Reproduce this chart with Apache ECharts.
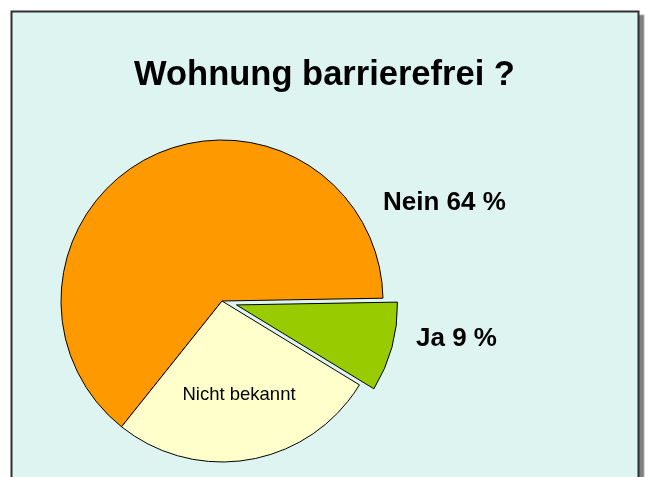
<!DOCTYPE html>
<html>
<head>
<meta charset="utf-8">
<script src="https://cdn.jsdelivr.net/npm/echarts@6/dist/echarts.min.js"></script>
<style>
html,body{margin:0;padding:0;background:#fff;}
#main{width:649px;height:477px;}
</style>
</head>
<body>
<div id="main"></div>
<script>
// Daten
const titleText = 'Wohnung barrierefrei ?';
const categories = ['Nein', 'Nicht bekannt', 'Ja'];
const values = [64, 27, 9];
const showPercent = [true, false, true];
const colors = ['#FF9900', '#FFFFCC', '#99CC00'];
const explodedName = 'Ja';

// Position der Beschriftungen (Pixel)
const labelPos = [
	{x: 383, y: 203, align: 'left', size: 26, weight: 'bold'},
	{x: 239, y: 395, align: 'center', size: 18.5, weight: 'normal'},
	{x: 416, y: 339, align: 'left', size: 26, weight: 'bold'}
];

const pieCenter = [222, 301];
const pieRadius = 161;
const startAngle = 1;
const explodeOffset = 15;

let myChart = echarts.init(document.getElementById('main'));

// Mittelwinkel des herausgezogenen Stücks (gegen den Uhrzeigersinn)
let total = values.reduce(function(a, b){ return a + b; }, 0);
let before = 0;
let exIdx = categories.indexOf(explodedName);
for (let i = 0; i < exIdx; i++) before += values[i];
let midAngle = (startAngle + (before + values[exIdx] / 2) / total * 360) * Math.PI / 180;
let exCenter = [
	pieCenter[0] + explodeOffset * Math.cos(midAngle),
	pieCenter[1] - explodeOffset * Math.sin(midAngle)
];

function buildData(visibleOnExploded){
	return categories.map(function(name, i){
		let visible = (name == explodedName) == visibleOnExploded;
		return {
			name: name,
			value: values[i],
			itemStyle: visible
				? {color: colors[i], borderColor: '#000', borderWidth: 1}
				: {color: 'rgba(0,0,0,0)', borderWidth: 0},
			label: {
				show: visible,
				fontSize: labelPos[i].size,
				fontWeight: labelPos[i].weight
			}
		};
	});
}

function pieSeries(center, data){
	return {
		type: 'pie',
		center: center,
		radius: pieRadius,
		startAngle: startAngle,
		clockwise: false,
		avoidLabelOverlap: false,
		silent: true,
		emphasis: {disabled: true},
		label: {
			position: 'inside',
			color: '#000',
			fontFamily: '"Liberation Sans", Arial, sans-serif',
			formatter: function(p){
				return showPercent[p.dataIndex] ? p.name + ' ' + p.value + ' %' : p.name;
			}
		},
		labelLine: {show: false},
		labelLayout: function(params){
			let pos = labelPos[params.dataIndex];
			return {x: pos.x, y: pos.y, align: pos.align, verticalAlign: 'middle'};
		},
		data: data
	};
}

let option = {
	animation: false,
	backgroundColor: '#ffffff',
	graphic: [
		{
			type: 'rect', z: -10, silent: true,
			shape: {x: 15, y: 15, width: 629, height: 500},
			style: {fill: '#808080', stroke: '#b0b0b0', lineWidth: 1}
		},
		{
			type: 'rect', z: -9, silent: true,
			shape: {x: 11.5, y: 11.5, width: 627, height: 500},
			style: {fill: '#DDF4F0', stroke: '#303030', lineWidth: 2}
		}
	],
	title: {
		text: titleText,
		left: 'center',
		top: 53,
		textStyle: {
			fontFamily: '"Liberation Sans", Arial, sans-serif',
			fontSize: 34.5,
			fontWeight: 'bold',
			color: '#000'
		}
	},
	series: [
		pieSeries(pieCenter, buildData(false)),
		pieSeries(exCenter, buildData(true))
	]
};

myChart.setOption(option);
</script>
</body>
</html>
